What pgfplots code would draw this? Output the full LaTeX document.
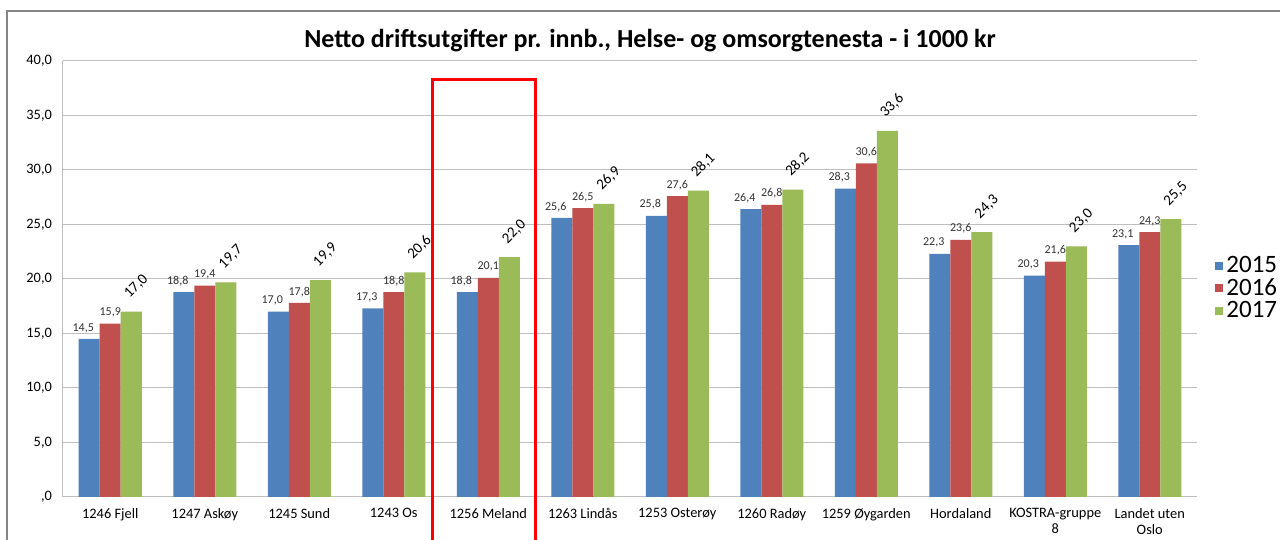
\documentclass[border=0pt]{standalone}
\usepackage{pgfplots}
\pgfplotsset{compat=1.18}
\usepackage{fontspec}
\setmainfont{Carlito}
\definecolor{cA}{RGB}{79,129,189}
\definecolor{cB}{RGB}{192,80,77}
\definecolor{cC}{RGB}{155,187,89}
\definecolor{gridc}{RGB}{190,190,190}
\begin{document}
\begin{tikzpicture}[x=1pt,y=1pt]
\useasboundingbox (0,0) rectangle (640,270);
\fill[white] (0,0) rectangle (640,270);
\draw[color={rgb,255:red,134;green,134;blue,134},line width=0.6pt] (3.5,-2) -- (3.5,264.5) -- (645,264.5);
\node[font=\bfseries\fontsize{13}{15}\selectfont, anchor=base] at (325,246) {Netto driftsutgifter pr. innb., Helse- og omsorgtenesta - i 1000 kr};
\begin{axis}[
  at={(31.5pt,21.5pt)}, anchor=south west,
  scale only axis, width=567pt, height=218pt,
  ymin=0, ymax=40, xmin=-0.5, xmax=11.5,
  ytick={0,5,10,15,20,25,30,35,40},
  yticklabels={{,0},{5,0},{10,0},{15,0},{20,0},{25,0},{30,0},{35,0},{40,0}},
  xtick={0,1,2,3,4,5,6,7,8,9,10,11},
  xticklabels={1246 Fjell,1247 Askøy,1245 Sund,1243 Os,1256 Meland,1263 Lindås,1253 Osterøy,1260 Radøy,1259 Øygarden,Hordaland,KOSTRA-gruppe\\8,Landet uten\\Oslo},
  xticklabel style={font=\fontsize{7.2}{8}\selectfont, align=center, yshift=-2pt},
  yticklabel style={font=\fontsize{7.2}{8}\selectfont, xshift=-2pt},
  major tick length=0pt,
  ymajorgrids, grid style={gridc, line width=0.5pt},
  axis line style={gridc, line width=0.5pt},
  axis x line*=bottom, axis y line*=left,
  ybar=0pt, bar width=10.5pt,
  clip=false,
  legend style={at={(1.0159,0.479)}, anchor=west, draw=none, fill=none, font=\fontsize{12.5}{14}\selectfont, row sep=-1.5pt, inner sep=0pt, nodes={inner sep=1.5pt}},
  legend cell align=left,
  legend image code/.code={\fill[#1] (0pt,-2pt) rectangle (4pt,2pt);},
  nodes near coords={\pgfmathprintnumber[fixed,fixed zerofill,precision=1,use comma,assume math mode=true]{\pgfplotspointmeta}},
]
\addplot[fill=cA, draw=none, nodes near coords style={font=\fontsize{6}{7}\selectfont, color=black!80, anchor=south, inner sep=1pt, yshift=2pt, xshift=-3pt}] coordinates {
(0,14.5) (1,18.8) (2,17.0) (3,17.3) (4,18.8) (5,25.6) (6,25.8) (7,26.4) (8,28.3) (9,22.3) (10,20.3) (11,23.1)};
\addplot[fill=cB, draw=none, nodes near coords style={font=\fontsize{6}{7}\selectfont, color=black!80, anchor=south, inner sep=1pt, yshift=2pt}] coordinates {
(0,15.9) (1,19.4) (2,17.8) (3,18.8) (4,20.1) (5,26.5) (6,27.6) (7,26.8) (8,30.6) (9,23.6) (10,21.6) (11,24.3)};
\addplot[fill=cC, draw=none, nodes near coords style={font=\fontsize{7.5}{8}\selectfont, color=black, anchor=south west, rotate=45, inner sep=1pt, yshift=3pt, xshift=2.8pt}] coordinates {
(0,17.0) (1,19.7) (2,19.9) (3,20.6) (4,22.0) (5,26.9) (6,28.1) (7,28.2) (8,33.6) (9,24.3) (10,23.0) (11,25.5)};
\legend{2015,2016,2017}
\draw[red, line width=1.5pt] (axis cs:3.415,-6) rectangle (axis cs:4.495,38.26);
\end{axis}
\end{tikzpicture}
\end{document}
